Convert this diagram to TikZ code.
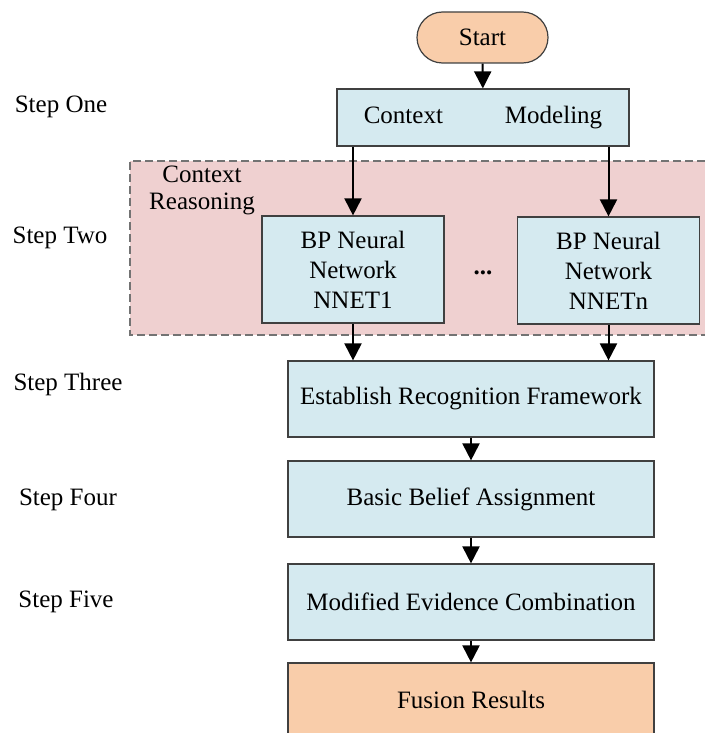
\documentclass[tikz,border=0pt]{standalone}
\usepackage{fontspec}
\setmainfont{Liberation Serif}
\usetikzlibrary{arrows.meta}

\definecolor{boxblue}{HTML}{D5EAF0}
\definecolor{boxorange}{HTML}{F9CDAA}
\definecolor{zonepink}{HTML}{EFD0D0}

\begin{document}
\begin{tikzpicture}
        [
            x = 0.5pt, y = -0.5pt,
            every node/.style = {font=\fontsize{12.5}{15}\selectfont},
            boxed/.style      = {shape=rectangle, draw=black!75, line width=0.6pt, fill=boxblue, align=center, inner sep=0pt},
            ending/.style     = {boxed, fill=boxorange},
            steptext/.style   = {align=center, inner sep=0pt},
            flow/.style       = {draw, line width=1pt, -{Triangle[width=8.5pt,length=8.5pt]}},
        ]
        \useasboundingbox (0,0) rectangle (705,733);

        \fill [zonepink] (130,161) rectangle (705,335);
        \draw [draw=black!55, line width=0.6pt, dash pattern=on 4pt off 2pt]
            (705,161) -- (130,161) -- (130,335) -- (705,335);

        \node [ending, rounded corners=12.75pt, minimum width=65.5pt, minimum height=25.5pt] (start) at (482.5,37.5) {Start};
        \node [boxed, minimum width=146pt, minimum height=28.5pt] (model) at (483,117.5) {Context\hspace{31pt}Modeling};
        \node [boxed, minimum width=91pt, minimum height=53.5pt] (net1) at (353,269.5) {BP Neural\\Network\\NNET1};
        \node [boxed, minimum width=91pt, minimum height=53.5pt] (netn) at (608.5,270.5) {BP Neural\\Network\\NNETn};
        \node [steptext] (dots) at (483,273) {\textbf{...}};
        \node [boxed, minimum width=183pt, minimum height=38pt] (frame) at (471,399) {Establish Recognition Framework};
        \node [boxed, minimum width=183pt, minimum height=38pt] (belief) at (471,499) {Basic Belief Assignment};
        \node [boxed, minimum width=183pt, minimum height=38pt] (combine) at (471,602) {Modified Evidence Combination};
        \node [ending, minimum width=183pt, minimum height=36.5pt] (fusion) at (471,699.5) {Fusion Results};

        \node [steptext, font=\fontsize{12.5}{13.5}\selectfont] (reason) at (202,190) {Context\\Reasoning};
        \node [steptext] (one) at (61,107) {Step One};
        \node [steptext] (two) at (60,238) {Step Two};
        \node [steptext] (three) at (68,384) {Step Three};
        \node [steptext] (four) at (68,500) {Step Four};
        \node [steptext] (five) at (66,602) {Step Five};

        \draw [flow] (start) -- (model);
        \draw [flow] (model.south -| net1) -- (net1);
        \draw [flow] (model.south -| netn) -- (netn);
        \draw [flow] (net1) -- (net1 |- frame.north);
        \draw [flow] (netn) -- (netn |- frame.north);
        \draw [flow] (frame) -- (belief);
        \draw [flow] (belief) -- (combine);
        \draw [flow] (combine) -- (fusion);
    \end{tikzpicture}
\end{document}
